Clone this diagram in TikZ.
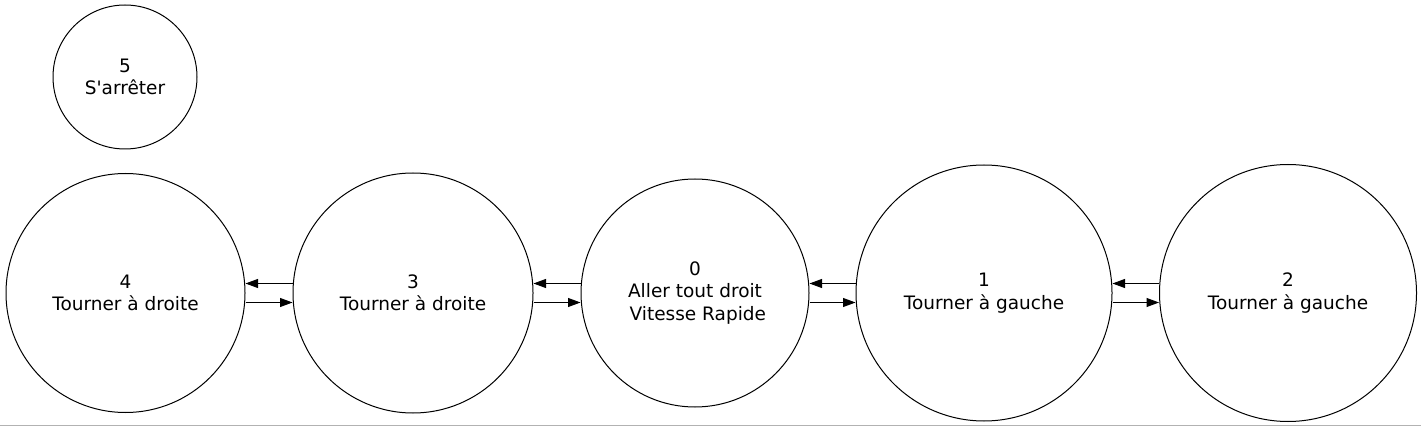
\documentclass[tikz,border=0pt]{standalone}
\usepackage{fontspec}
\setmainfont{DejaVu Sans}
\usepackage{tikz}
\usetikzlibrary{arrows.meta}
\tikzset{
	state/.style={draw, circle, line width=1pt, inner sep=0pt, align=center, font=\fontsize{18.5}{22.4}\selectfont},
	edge/.style={line width=1pt, -{Triangle[length=12.5pt,width=9pt]}}
}
\newcommand{\stopLabel}{5\\S\textquotesingle arrêter}
\newcommand{\rightLabel}[1]{#1\\Tourner à droite}
\newcommand{\leftLabel}[1]{#1\\Tourner à gauche}
\newcommand{\straightLabel}{0\\Aller tout droit\\\hspace*{5.7pt}Vitesse Rapide}

\begin{document}
\begin{tikzpicture}[x=1pt, y=-1pt]
	\useasboundingbox (0,0) rectangle (1421,427);
	\draw[color=gray!60, line width=1.5pt] (0,425.5) -- (1421,425.5);
	\foreach \nodeName/\xCoord/\yCoord/\nodeSize/\nodeText in {n5/125/77/144/{\stopLabel}, n4/125.5/293/239/{\rightLabel{4}}, n3/413/293/240/{\rightLabel{3}}, n0/695/293/228/{\straightLabel}, n1/984/293/256/{\leftLabel{1}}, n2/1288/293/257/{\leftLabel{2}}}
	{
		\node[state, minimum size=\nodeSize pt] (\nodeName) at (\xCoord, \yCoord) {\nodeText};
	}
	\foreach \fromNode/\toNode in {n3/n4, n0/n3, n1/n0, n2/n1}
	{
		\draw[edge] ([yshift=9.5pt]\fromNode.west) -- ([yshift=9.5pt]\toNode.east);
		\draw[edge] ([yshift=-9.5pt]\toNode.east) -- ([yshift=-9.5pt]\fromNode.west);
	}
\end{tikzpicture}
\end{document}
